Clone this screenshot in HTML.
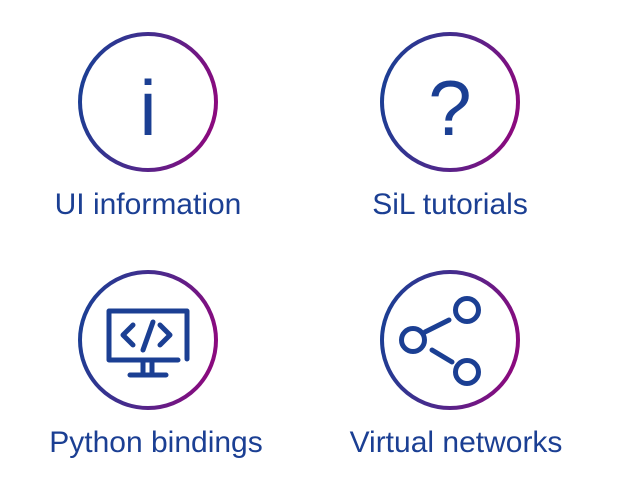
<!DOCTYPE html>
<html><head><style>
body{margin:0;background:#fff;width:625px;height:504px;overflow:hidden}
svg{display:block}
text{font-family:"Liberation Sans",sans-serif;fill:#1b3f93}
</style></head><body>
<svg width="625" height="504" viewBox="0 0 625 504">
<defs>
<linearGradient id="g" x1="0" y1="0.3" x2="1" y2="0.5">
<stop offset="0" stop-color="#1a3f94"/><stop offset="0.5" stop-color="#4a2a8c"/><stop offset="1" stop-color="#8a0a7e"/>
</linearGradient>
</defs>
<g fill="none" stroke="url(#g)" stroke-width="4">
<circle cx="148" cy="102" r="68"/>
<circle cx="450" cy="102" r="68"/>
<circle cx="148" cy="340" r="68"/>
<circle cx="450" cy="340" r="68"/>
</g>
<text x="148" y="135" font-size="78" text-anchor="middle">i</text>
<text x="450" y="135" font-size="78" text-anchor="middle">?</text>
<g fill="none" stroke="#1b3f93" stroke-width="5" stroke-linecap="round" stroke-linejoin="round">
<path d="M178 360 H109 V311 H187 V359"/>
<path d="M143 361 V373 M152 361 V373 M130 375 H166"/>
<path d="M133 325 L123 335 L133 345"/>
<path d="M160 325 L170 335 L160 345"/>
<path d="M143 350 L153 322"/>
<circle cx="467" cy="310" r="11.5"/>
<circle cx="413" cy="340" r="11.5"/>
<circle cx="467" cy="372" r="11.5"/>
<path d="M425 332 L449 320 M432 350 L452 362"/>
</g>
<text x="148" y="214" font-size="30" text-anchor="middle">UI information</text>
<text x="450" y="214" font-size="30" text-anchor="middle">SiL tutorials</text>
<text x="156" y="452" font-size="30" text-anchor="middle">Python bindings</text>
<text x="456" y="452" font-size="30" text-anchor="middle">Virtual networks</text>
</svg>
</body></html>
